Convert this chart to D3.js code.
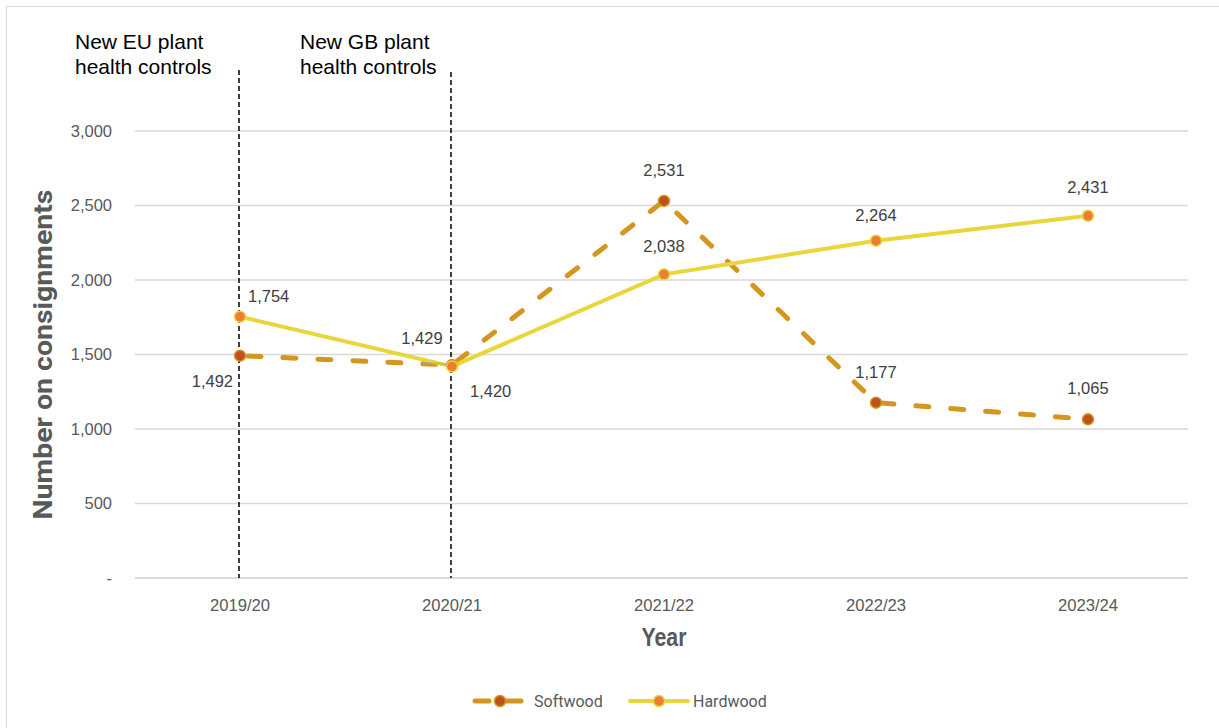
<!DOCTYPE html>
<html><head><meta charset="utf-8">
<script src="https://cdn.jsdelivr.net/npm/d3@7"></script>
<style>
body{margin:0;background:#fff;}
svg{display:block;font-family:"Liberation Sans",Arial,sans-serif;}
</style></head>
<body>
<svg id="chart" width="1219" height="728"></svg>
<script>
const years = ["2019/20","2020/21","2021/22","2022/23","2023/24"];
const softwood = [1492,1429,2531,1177,1065];
const hardwood = [1754,1420,2038,2264,2431];
const yTicks = [0,500,1000,1500,2000,2500,3000];
const seriesNames = ["Softwood","Hardwood"];

const svg = d3.select("#chart");
const W = 1219, H = 728;
const m = {left:134, right:25, top:131, bottom:150};
const gridRight = 1188;
const x = d3.scaleBand().domain(years).range([m.left, W - m.right]).padding(0);
const y = d3.scaleLinear().domain([0,3000]).range([H - m.bottom, m.top]);
const cx = d => x(d) + x.bandwidth()/2;

// outer border
svg.append("rect").attr("x",6.5).attr("y",6.5).attr("width",W-6).attr("height",H-6)
  .attr("fill","none").attr("stroke","#d9d9d9").attr("stroke-width",1);

// gridlines
svg.append("g").selectAll("line").data(yTicks).join("line")
  .attr("x1",m.left+1).attr("x2",gridRight)
  .attr("y1",d=>y(d)).attr("y2",d=>y(d))
  .attr("stroke",d=>d===0?"#d0d0d0":"#d9d9d9").attr("stroke-width",1.5);

// y axis
const yAxis = d3.axisLeft(y).tickValues(yTicks).tickSize(0).tickPadding(22)
  .tickFormat(d => d===0 ? "-" : d3.format(",")(d));
const gy = svg.append("g").attr("transform",`translate(${m.left},0)`).call(yAxis);
gy.select(".domain").remove();
gy.selectAll("text").attr("fill","#595959").style("font-size","16.5px")
  .style("font-family","'Liberation Sans',Arial,sans-serif");

// x axis
const xAxis = d3.axisBottom(x).tickSize(0).tickPadding(21);
const gx = svg.append("g").attr("transform",`translate(0,${H-m.bottom})`).call(xAxis);
gx.select(".domain").remove();
gx.selectAll("text").attr("fill","#595959").style("font-size","17px")
  .attr("transform","scale(0.98,1)")
  .style("font-family","'Liberation Sans',Arial,sans-serif");

// axis titles
svg.append("g").attr("transform",`translate(${cx(years[2])},646) scale(0.85,1)`)
  .append("text").attr("text-anchor","middle")
  .attr("fill","#595959").style("font-size","25px").style("font-weight","bold")
  .style("font-family","'Liberation Sans',Arial,sans-serif")
  .text("Year");
svg.append("text").attr("transform",`translate(52,${(y(0)+y(3000))/2}) rotate(-90)`)
  .attr("text-anchor","middle").attr("fill","#595959").style("font-size","25px").style("font-weight","bold")
  .attr("textLength",330).attr("lengthAdjust","spacingAndGlyphs")
  .style("font-family","Roboto,'Liberation Sans',Arial,sans-serif")
  .text("Number on consignments");

// vertical dashed annotation lines
const vlines = [{yr:years[0], top:70},{yr:years[1], top:72}];
svg.append("g").selectAll("line").data(vlines).join("line")
  .attr("x1",d=>cx(d.yr)-1).attr("x2",d=>cx(d.yr)-1)
  .attr("y1",d=>d.top).attr("y2",y(0))
  .attr("stroke","#000").attr("stroke-width",1.5).attr("stroke-dasharray","5,3");

// annotations
const ann = [
  {x:75, lines:["New EU plant","health controls"]},
  {x:300, lines:["New GB plant","health controls"]}
];
ann.forEach(a=>{
  const t = svg.append("text").attr("x",a.x).attr("y",49).attr("fill","#000")
    .style("font-size","21px").style("font-family","'Liberation Sans',Arial,sans-serif");
  a.lines.forEach((l,i)=> t.append("tspan").attr("x",a.x).attr("dy",i===0?0:25).text(l));
});

const softColor = "#D4961E", softFill = "#C0501A";
const hardColor = "#E8D63A", hardFill = "#ED7D31";

const line = d3.line().x((d,i)=>cx(years[i])).y(d=>y(d));

// softwood
svg.append("path").datum(softwood).attr("d",line).attr("fill","none")
  .attr("stroke",softColor).attr("stroke-width",5).attr("stroke-linecap","round")
  .attr("stroke-dasharray","13,22").attr("stroke-dashoffset",-8);
// hardwood
svg.append("path").datum(hardwood).attr("d",line).attr("fill","none")
  .attr("stroke",hardColor).attr("stroke-width",4);

svg.append("g").selectAll("circle").data(softwood).join("circle")
  .attr("cx",(d,i)=>cx(years[i])).attr("cy",d=>y(d)).attr("r",5.5)
  .attr("fill",softFill).attr("stroke",softColor).attr("stroke-width",1.5);
svg.append("g").selectAll("circle").data(hardwood).join("circle")
  .attr("cx",(d,i)=>cx(years[i])).attr("cy",d=>y(d)).attr("r",5.5)
  .attr("fill",hardFill).attr("stroke",hardColor).attr("stroke-width",1.5);

// data labels (offsets relative to point)
const softOff = [[-7,31,"end"],[-30,-21,"middle"],[0,-25,"middle"],[0,-25,"middle"],[0,-25,"middle"]];
const hardOff = [[8,-15,"start"],[18,31,"start"],[0,-22,"middle"],[0,-20,"middle"],[0,-23,"middle"]];
const fmt = d3.format(",");
function labels(data, offs){
  svg.append("g").selectAll("text").data(data).join("text")
    .attr("x",(d,i)=>cx(years[i])+offs[i][0])
    .attr("y",(d,i)=>y(d)+offs[i][1])
    .attr("text-anchor",(d,i)=>offs[i][2])
    .attr("fill","#404040").style("font-size","16.5px")
    .text(d=>fmt(d));
}
labels(softwood, softOff);
labels(hardwood, hardOff);
// leader line for 1,429
svg.append("line").attr("x1",cx(years[1])-31).attr("y1",y(softwood[1])-3)
  .attr("x2",cx(years[1])-4).attr("y2",y(hardwood[1])-2)
  .attr("stroke","#a6a6a6").attr("stroke-width",1);

// legend
const lg = svg.append("g");
const legendItems = [
  {name:seriesNames[0], x:473, len:50, color:softColor, fill:softFill, dash:true},
  {name:seriesNames[1], x:630, len:58, color:hardColor, fill:hardFill, dash:false}
];
legendItems.forEach(it=>{
  const ly = 701;
  if(it.dash){
    lg.append("line").attr("x1",it.x+2).attr("x2",it.x+16).attr("y1",ly).attr("y2",ly)
      .attr("stroke",it.color).attr("stroke-width",5).attr("stroke-linecap","round");
    lg.append("line").attr("x1",it.x+30).attr("x2",it.x+it.len-2).attr("y1",ly).attr("y2",ly)
      .attr("stroke",it.color).attr("stroke-width",5).attr("stroke-linecap","round");
  } else {
    lg.append("line").attr("x1",it.x).attr("x2",it.x+it.len).attr("y1",ly).attr("y2",ly)
      .attr("stroke",it.color).attr("stroke-width",4).attr("stroke-linecap","round");
  }
  lg.append("circle").attr("cx",it.x+it.len/2+(it.dash?2:0)).attr("cy",ly).attr("r",5.5)
    .attr("fill",it.fill).attr("stroke",it.color).attr("stroke-width",1.5);
  lg.append("text").attr("x",it.x+it.len+(it.dash?11:5)).attr("y",ly+5.5)
    .attr("fill","#595959").style("font-size","16px")
    .style("font-family","Roboto,'Liberation Sans',Arial,sans-serif").text(it.name);
});
</script>
</body></html>
